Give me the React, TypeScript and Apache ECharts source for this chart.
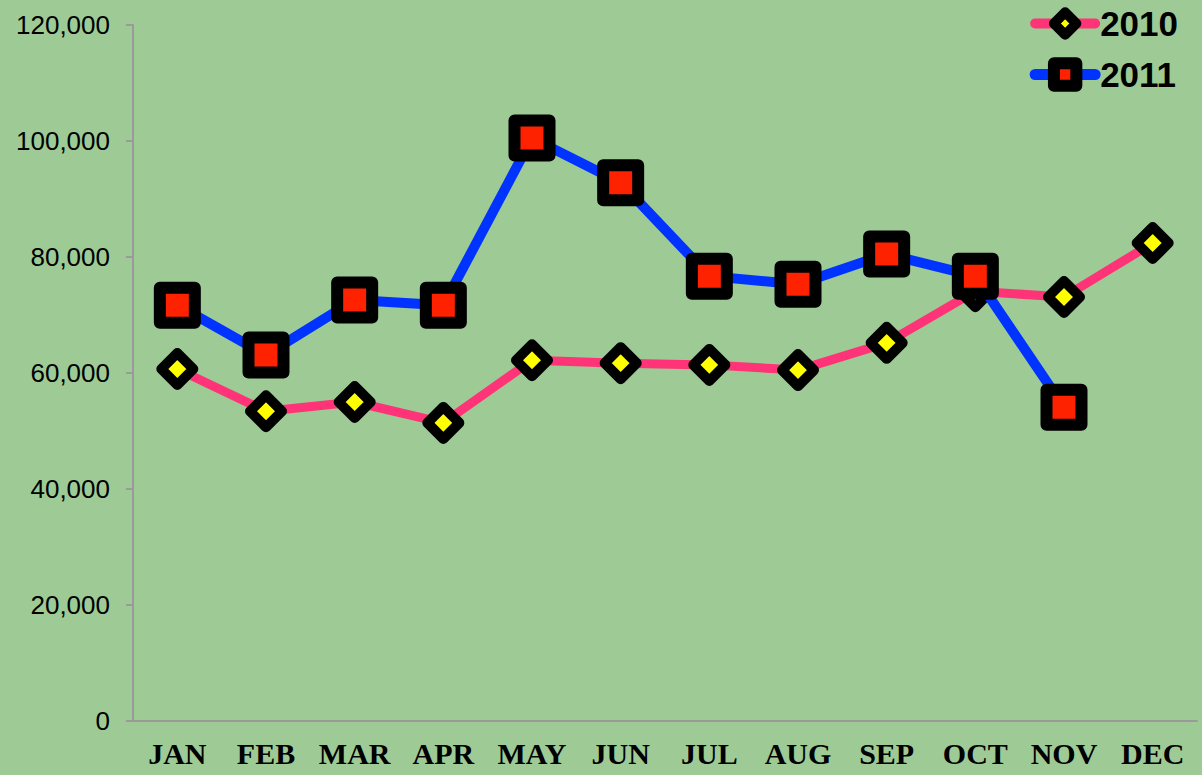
import React, { useEffect, useRef } from "react";
import * as echarts from "echarts";

const months = ["JAN", "FEB", "MAR", "APR", "MAY", "JUN", "JUL", "AUG", "SEP", "OCT", "NOV", "DEC"];
const sales2010 = [60700, 53400, 55000, 51400, 62200, 61700, 61400, 60500, 65200, 74100, 73100, 82400];
const sales2011: (number | null)[] = [71700, 63100, 72600, 71700, 100500, 92800, 76700, 75300, 80500, 76700, 54100, null];

const PINK = "#ff3377";
const BLUE = "#0033ff";

export default function App() {
  const ref = useRef<HTMLDivElement>(null);
  useEffect(() => {
    if (!ref.current) return;
    const chart = echarts.init(ref.current, null, { renderer: "svg" });
    chart.setOption({
      animation: false,
      backgroundColor: "#9ecb95",
      grid: { left: 133, right: 5, top: 25, bottom: 54, containLabel: false },
      legend: {
        right: 24,
        top: 6,
        orient: "vertical",
        padding: 0,
        itemWidth: 60,
        itemHeight: 28,
        itemGap: 16,
        textStyle: { fontFamily: "Liberation Sans, Arial", fontWeight: "bold", fontSize: 35, color: "#000" },
        data: [
          {
            name: "2010",
            lineStyle: { color: PINK, width: 10, cap: "round" },
            itemStyle: { color: "#ffff00", borderColor: "#000", borderWidth: 10, borderJoin: "round" },
          },
          {
            name: "2011",
            lineStyle: { color: BLUE, width: 11, cap: "round" },
            itemStyle: { color: "#ff2200", borderColor: "#000", borderWidth: 12, borderJoin: "round" },
          },
        ],
      },
      xAxis: {
        type: "category",
        data: months,
        boundaryGap: true,
        axisLine: { lineStyle: { color: "#9a9a9a", width: 2 } },
        axisTick: { length: 7, lineStyle: { color: "#9a9a9a", width: 2 } },
        axisLabel: {
          interval: 0,
          margin: 17,
          fontFamily: "Liberation Serif, serif",
          fontWeight: 900,
          fontSize: 30,
          color: "#000",
        },
      },
      yAxis: {
        type: "value",
        min: 0,
        max: 120000,
        interval: 20000,
        splitLine: { show: false },
        axisLine: { show: true, lineStyle: { color: "#9a9a9a", width: 2 } },
        axisTick: { show: true, length: 7, lineStyle: { color: "#9a9a9a", width: 2 } },
        axisLabel: {
          margin: 23,
          fontFamily: "Liberation Sans, Arial",
          fontSize: 26,
          color: "#000",
          formatter: (v: number) => v.toLocaleString("en-US"),
        },
      },
      series: [
        {
          name: "2010",
          type: "line",
          data: sales2010,
          symbol: "diamond",
          symbolSize: 32,
          lineStyle: { color: PINK, width: 9 },
          itemStyle: { color: "#ffff00", borderColor: "#000", borderWidth: 10, borderJoin: "round" },
          z: 2,
        },
        {
          name: "2011",
          type: "line",
          data: sales2011,
          symbol: "rect",
          symbolSize: 35,
          lineStyle: { color: BLUE, width: 10 },
          itemStyle: { color: "#ff2200", borderColor: "#000", borderWidth: 12, borderJoin: "round" },
          z: 3,
        },
      ],
    });
    return () => chart.dispose();
  }, []);
  return <div ref={ref} style={{ position: "fixed", left: 0, top: 0, width: 1202, height: 775 }} />;
}
